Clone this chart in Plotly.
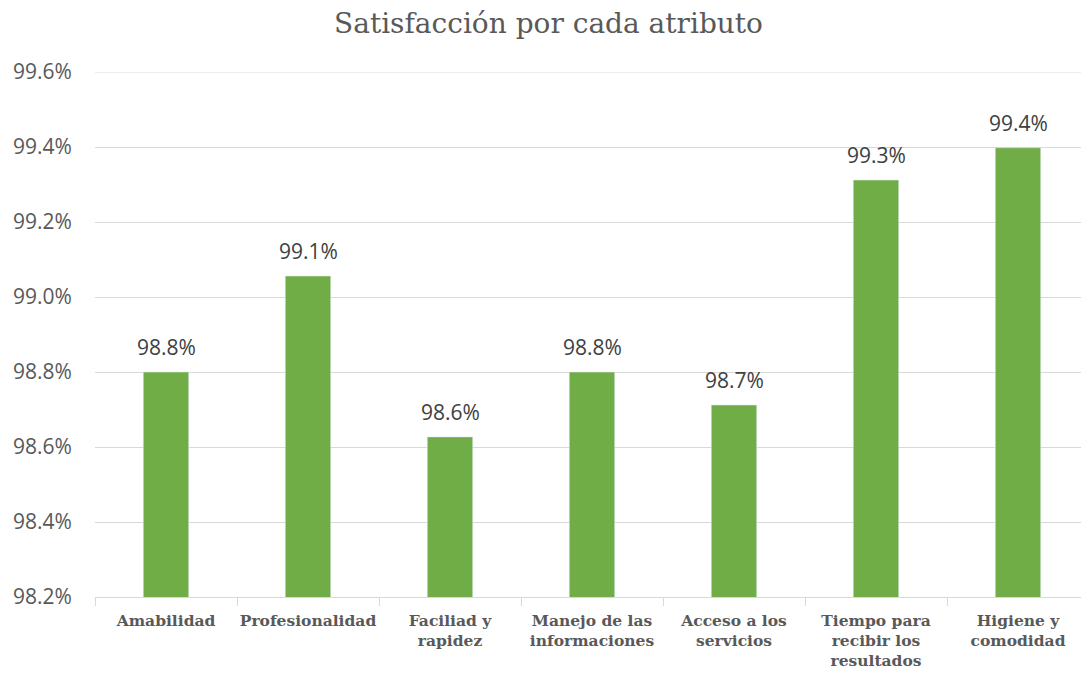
import plotly.graph_objects as go

categories = ["Amabilidad", "Profesionalidad", "Faciliad y<br>rapidez", "Manejo de las<br>informaciones",
              "Acceso a los<br>servicios", "Tiempo para<br>recibir los<br>resultados", "Higiene y<br>comodidad"]
values = [0.9880, 0.99056, 0.98627, 0.9880, 0.98712, 0.99312, 0.99398]
tick_vals = [0.982, 0.984, 0.986, 0.988, 0.990, 0.992, 0.994, 0.996]
y_min, y_max = 0.982, 0.996

fig = go.Figure(go.Bar(
    x=categories, y=values, marker_color="#70ad47",
))
for c, v in zip(categories, values):
    fig.add_annotation(x=c, y=v, text=f"{v*100:.1f}%", showarrow=False,
                       yanchor="middle", yshift=25,
                       font=dict(family="Open Sans", size=21, color="#404040"))
# top gridline (plotly drops the gridline sitting exactly on the range edge)
fig.add_shape(type="line", xref="paper", x0=0, x1=1, yref="y", y0=y_max, y1=y_max,
              line=dict(color="#d9d9d9", width=1), layer="below")
fig.update_layout(
    width=1081, height=665,
    margin=dict(l=87, r=0, t=64, b=76),
    paper_bgcolor="white", plot_bgcolor="white",
    bargap=0.68,
    showlegend=False,
    title=dict(text="Satisfacción por cada atributo", x=0.5, xanchor="center", y=0.977, yanchor="middle",
               font=dict(family="DejaVu Serif", size=28, color="#595959")),
)
fig.update_yaxes(range=[y_min, y_max], tickvals=tick_vals, tickformat=".1%", automargin=False,
                 showgrid=True, gridcolor="#d9d9d9", gridwidth=1, zeroline=False,
                 ticks="outside", ticklen=18, tickcolor="rgba(0,0,0,0)",
                 tickfont=dict(family="Open Sans", size=21, color="#595959"))
fig.update_xaxes(showline=True, linecolor="#d9d9d9", linewidth=1, automargin=False,
                 ticks="outside", tickson="boundaries", ticklen=8, tickcolor="#d9d9d9",
                 ticklabelstandoff=9,
                 tickfont=dict(family="DejaVu Serif", size=15.5, color="#595959", weight="bold"),
                 tickangle=0)
fig.write_html("out.html")
